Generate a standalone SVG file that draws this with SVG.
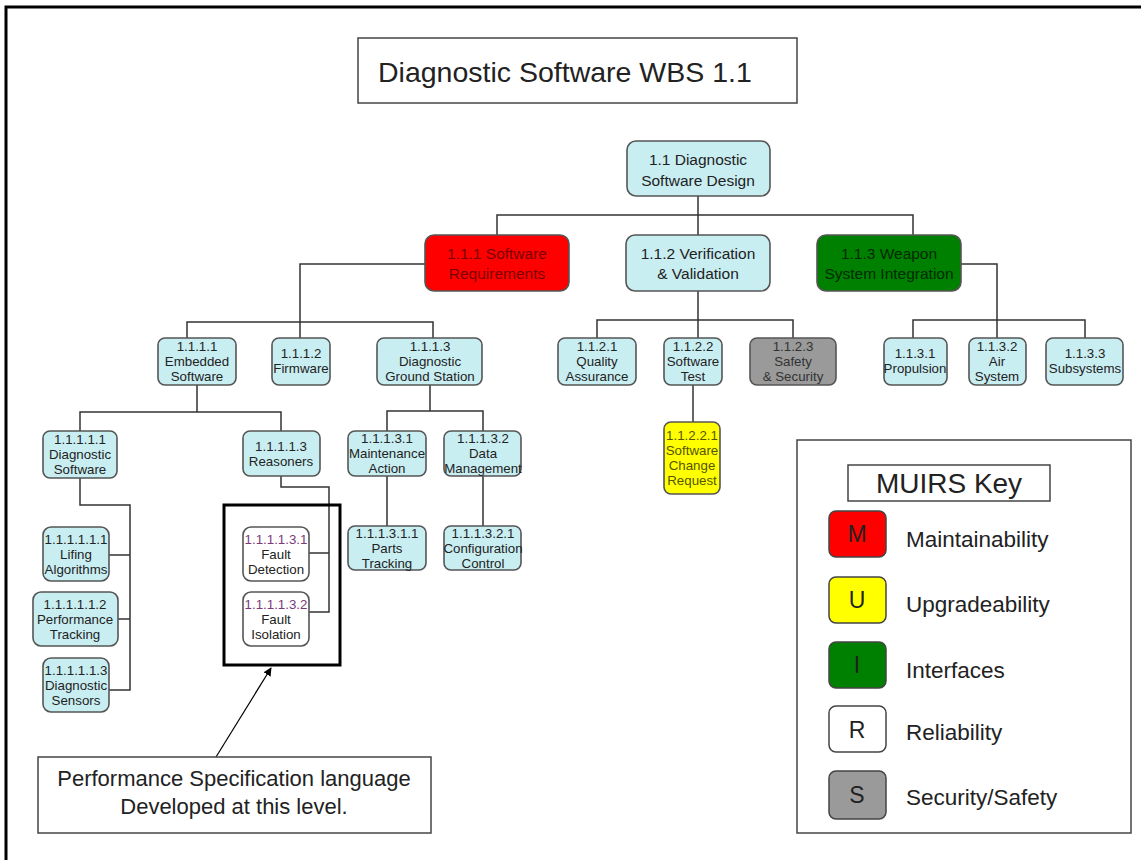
<svg xmlns="http://www.w3.org/2000/svg" width="1141" height="860" viewBox="0 0 1141 860">
  <style>
    text { font-family: "Liberation Sans", Arial, sans-serif; fill: #222; }
    .n rect { fill: #C9EEF2; stroke: #555; stroke-width: 1.6; }
    .n text { font-size: 13.3px; text-anchor: middle; }
    .big text { font-size: 15.5px; }
    .red rect { fill: #FF0000; }
    .red text { fill: #7A0000; }
    .grn rect { fill: #008000; }
    .grn text { fill: #002A00; }
    .gry rect { fill: #9A9A9A; }
    .gry text { fill: #333; }
    .yel rect { fill: #FFFF00; }
    .yel text { fill: #555500; }
    .wht rect { fill: #FFFFFF; }
    .wht .id { fill: #7A3A78; }
    .conn { fill: none; stroke: #333; stroke-width: 1.5; }
    .key rect { stroke: #444; stroke-width: 1.5; }
    .key text { font-size: 22.5px; }
    .key .ltr { font-size: 23px; text-anchor: middle; }
  </style>
  <defs>
    <marker id="arrow" viewBox="0 0 10 10" refX="9" refY="5" markerWidth="7" markerHeight="7" orient="auto">
      <path d="M0,0 L10,5 L0,10 z" fill="#000"/>
    </marker>
  </defs>

  <!-- page frame -->
  <path d="M6,862 V7 H1143" fill="none" stroke="#000" stroke-width="3"/>

  <!-- title -->
  <g id="title">
    <rect x="358" y="38" width="439" height="65" fill="#fff" stroke="#444" stroke-width="1.5"/>
    <text x="378" y="82" font-size="28.5">Diagnostic Software WBS 1.1</text>
  </g>

  <!-- connectors -->
  <g id="connectors" class="conn">
    <path d="M698,196 V215 M497,235 V215 H913 V235 M698,215 V235"/>
    <path d="M425,264 H300 V322 M187,338 V322 H433 V338 M300,322 V338"/>
    <path d="M698,291 V320 M597,338 V320 H793 V338 M698,320 V338"/>
    <path d="M961,264 H997 V320 M913,338 V320 H1085 V338 M997,320 V338"/>
    <path d="M693,385 V422"/>
    <path d="M197,385 V412 M80,431 V412 H281 V431"/>
    <path d="M430,385 V411 M387,431 V411 H483 V431"/>
    <path d="M387,476 V526 M483,476 V526"/>
    <path d="M80,478 V505 H130 V690 H109 M109,555 H130 M118,619 H130"/>
    <path d="M281,476 V487 H329 V612 H309 M309,553 H329"/>
  </g>

  <!-- level 1 -->
  <g id="n1-1" class="n big">
    <rect x="627" y="141" width="143" height="55" rx="9"/>
    <text x="698" y="165">1.1 Diagnostic</text>
    <text x="698" y="186">Software Design</text>
  </g>

  <!-- level 2 -->
  <g id="n1-1-1" class="n big red">
    <rect x="425" y="235" width="144" height="56" rx="9"/>
    <text x="497" y="259">1.1.1 Software</text>
    <text x="497" y="279">Requirements</text>
  </g>
  <g id="n1-1-2" class="n big">
    <rect x="626" y="235" width="144" height="56" rx="9"/>
    <text x="698" y="259">1.1.2 Verification</text>
    <text x="698" y="279">&amp; Validation</text>
  </g>
  <g id="n1-1-3" class="n big grn">
    <rect x="817" y="235" width="144" height="56" rx="9"/>
    <text x="889" y="259">1.1.3 Weapon</text>
    <text x="889" y="279">System Integration</text>
  </g>

  <!-- level 3 -->
  <g id="n1-1-1-1" class="n">
    <rect x="158" y="338" width="78" height="47" rx="7"/>
    <text x="197" y="351">1.1.1.1</text>
    <text x="197" y="366">Embedded</text>
    <text x="197" y="381">Software</text>
  </g>
  <g id="n1-1-1-2" class="n">
    <rect x="272" y="338" width="58" height="47" rx="7"/>
    <text x="301" y="358">1.1.1.2</text>
    <text x="301" y="373">Firmware</text>
  </g>
  <g id="n1-1-1-3" class="n">
    <rect x="377" y="338" width="105" height="47" rx="7"/>
    <text x="430" y="351">1.1.1.3</text>
    <text x="430" y="366">Diagnostic</text>
    <text x="430" y="381">Ground Station</text>
  </g>
  <g id="n1-1-2-1" class="n">
    <rect x="558" y="338" width="78" height="47" rx="7"/>
    <text x="597" y="351">1.1.2.1</text>
    <text x="597" y="366">Quality</text>
    <text x="597" y="381">Assurance</text>
  </g>
  <g id="n1-1-2-2" class="n">
    <rect x="664" y="338" width="58" height="47" rx="7"/>
    <text x="693" y="351">1.1.2.2</text>
    <text x="693" y="366">Software</text>
    <text x="693" y="381">Test</text>
  </g>
  <g id="n1-1-2-3" class="n gry">
    <rect x="750" y="338" width="86" height="47" rx="7"/>
    <text x="793" y="351">1.1.2.3</text>
    <text x="793" y="366">Safety</text>
    <text x="793" y="381">&amp; Security</text>
  </g>
  <g id="n1-1-3-1" class="n">
    <rect x="884" y="338" width="63" height="47" rx="7"/>
    <text x="915" y="358">1.1.3.1</text>
    <text x="915" y="373">Propulsion</text>
  </g>
  <g id="n1-1-3-2" class="n">
    <rect x="969" y="338" width="57" height="47" rx="7"/>
    <text x="997" y="351">1.1.3.2</text>
    <text x="997" y="366">Air</text>
    <text x="997" y="381">System</text>
  </g>
  <g id="n1-1-3-3" class="n">
    <rect x="1046" y="338" width="77" height="47" rx="7"/>
    <text x="1085" y="358">1.1.3.3</text>
    <text x="1085" y="373">Subsystems</text>
  </g>

  <!-- level 4 -->
  <g id="n1-1-1-1-1" class="n">
    <rect x="43" y="431" width="74" height="47" rx="7"/>
    <text x="80" y="444">1.1.1.1.1</text>
    <text x="80" y="459">Diagnostic</text>
    <text x="80" y="474">Software</text>
  </g>
  <g id="n1-1-1-1-3" class="n">
    <rect x="243" y="431" width="77" height="45" rx="7"/>
    <text x="281" y="451">1.1.1.1.3</text>
    <text x="281" y="466">Reasoners</text>
  </g>
  <g id="n1-1-1-3-1" class="n">
    <rect x="348" y="431" width="78" height="45" rx="7"/>
    <text x="387" y="443">1.1.1.3.1</text>
    <text x="387" y="458">Maintenance</text>
    <text x="387" y="473">Action</text>
  </g>
  <g id="n1-1-1-3-2" class="n">
    <rect x="444" y="431" width="77" height="45" rx="7"/>
    <text x="483" y="443">1.1.1.3.2</text>
    <text x="483" y="458">Data</text>
    <text x="483" y="473">Management</text>
  </g>
  <g id="n1-1-2-2-1" class="n yel">
    <rect x="664" y="422" width="56" height="72" rx="7"/>
    <text x="692" y="440">1.1.2.2.1</text>
    <text x="692" y="455">Software</text>
    <text x="692" y="470">Change</text>
    <text x="692" y="485">Request</text>
  </g>

  <!-- level 5 -->
  <g id="n1-1-1-3-1-1" class="n">
    <rect x="348" y="526" width="78" height="44" rx="7"/>
    <text x="387" y="538">1.1.1.3.1.1</text>
    <text x="387" y="553">Parts</text>
    <text x="387" y="568">Tracking</text>
  </g>
  <g id="n1-1-1-3-2-1" class="n">
    <rect x="444" y="526" width="77" height="44" rx="7"/>
    <text x="483" y="538">1.1.1.3.2.1</text>
    <text x="483" y="553">Configuration</text>
    <text x="483" y="568">Control</text>
  </g>
  <g id="n1-1-1-1-1-1" class="n">
    <rect x="43" y="527" width="66" height="54" rx="8"/>
    <text x="76" y="544">1.1.1.1.1.1</text>
    <text x="76" y="559">Lifing</text>
    <text x="76" y="574">Algorithms</text>
  </g>
  <g id="n1-1-1-1-1-2" class="n">
    <rect x="33" y="592" width="85" height="54" rx="8"/>
    <text x="75" y="609">1.1.1.1.1.2</text>
    <text x="75" y="624">Performance</text>
    <text x="75" y="639">Tracking</text>
  </g>
  <g id="n1-1-1-1-1-3" class="n">
    <rect x="43" y="658" width="66" height="54" rx="8"/>
    <text x="76" y="675">1.1.1.1.1.3</text>
    <text x="76" y="690">Diagnostic</text>
    <text x="76" y="705">Sensors</text>
  </g>

  <!-- reasoner children, grouped in a heavy frame -->
  <g id="reasoner-frame">
    <rect x="224" y="505" width="116" height="160" fill="none" stroke="#000" stroke-width="3"/>
  </g>
  <g id="n1-1-1-1-3-1" class="n wht">
    <rect x="243" y="527" width="66" height="54" rx="8"/>
    <text class="id" x="276" y="544">1.1.1.1.3.1</text>
    <text x="276" y="559">Fault</text>
    <text x="276" y="574">Detection</text>
  </g>
  <g id="n1-1-1-1-3-2" class="n wht">
    <rect x="243" y="592" width="66" height="54" rx="8"/>
    <text class="id" x="276" y="609">1.1.1.1.3.2</text>
    <text x="276" y="624">Fault</text>
    <text x="276" y="639">Isolation</text>
  </g>

  <!-- callout -->
  <g id="callout">
    <line x1="216" y1="757" x2="271" y2="668" stroke="#000" stroke-width="1.2" marker-end="url(#arrow)"/>
    <rect x="38" y="757" width="393" height="76" fill="#fff" stroke="#444" stroke-width="1.5"/>
    <text x="234" y="786" font-size="22" text-anchor="middle">Performance Specification language</text>
    <text x="234" y="814" font-size="22" text-anchor="middle">Developed at this level.</text>
  </g>

  <!-- legend -->
  <g id="legend" class="key">
    <rect x="797" y="440" width="334" height="393" fill="#fff" stroke="#222" stroke-width="2"/>
    <rect x="848" y="465" width="202" height="36" fill="#fff" stroke="#777"/>
    <text x="949" y="493" text-anchor="middle" style="font-size:28px">MUIRS Key</text>
    <rect x="829" y="511" width="57" height="46" rx="7" fill="#FF0000"/>
    <text class="ltr" x="857" y="542">M</text>
    <text x="906" y="547">Maintainability</text>
    <rect x="829" y="577" width="57" height="46" rx="7" fill="#FFFF00"/>
    <text class="ltr" x="857" y="608">U</text>
    <text x="906" y="612">Upgradeability</text>
    <rect x="829" y="642" width="57" height="46" rx="7" fill="#008000"/>
    <text class="ltr" x="857" y="673">I</text>
    <text x="906" y="678">Interfaces</text>
    <rect x="829" y="706" width="57" height="46" rx="7" fill="#FFFFFF"/>
    <text class="ltr" x="857" y="738">R</text>
    <text x="906" y="740">Reliability</text>
    <rect x="829" y="771" width="57" height="48" rx="7" fill="#9A9A9A"/>
    <text class="ltr" x="857" y="803">S</text>
    <text x="906" y="805">Security/Safety</text>
  </g>
</svg>
